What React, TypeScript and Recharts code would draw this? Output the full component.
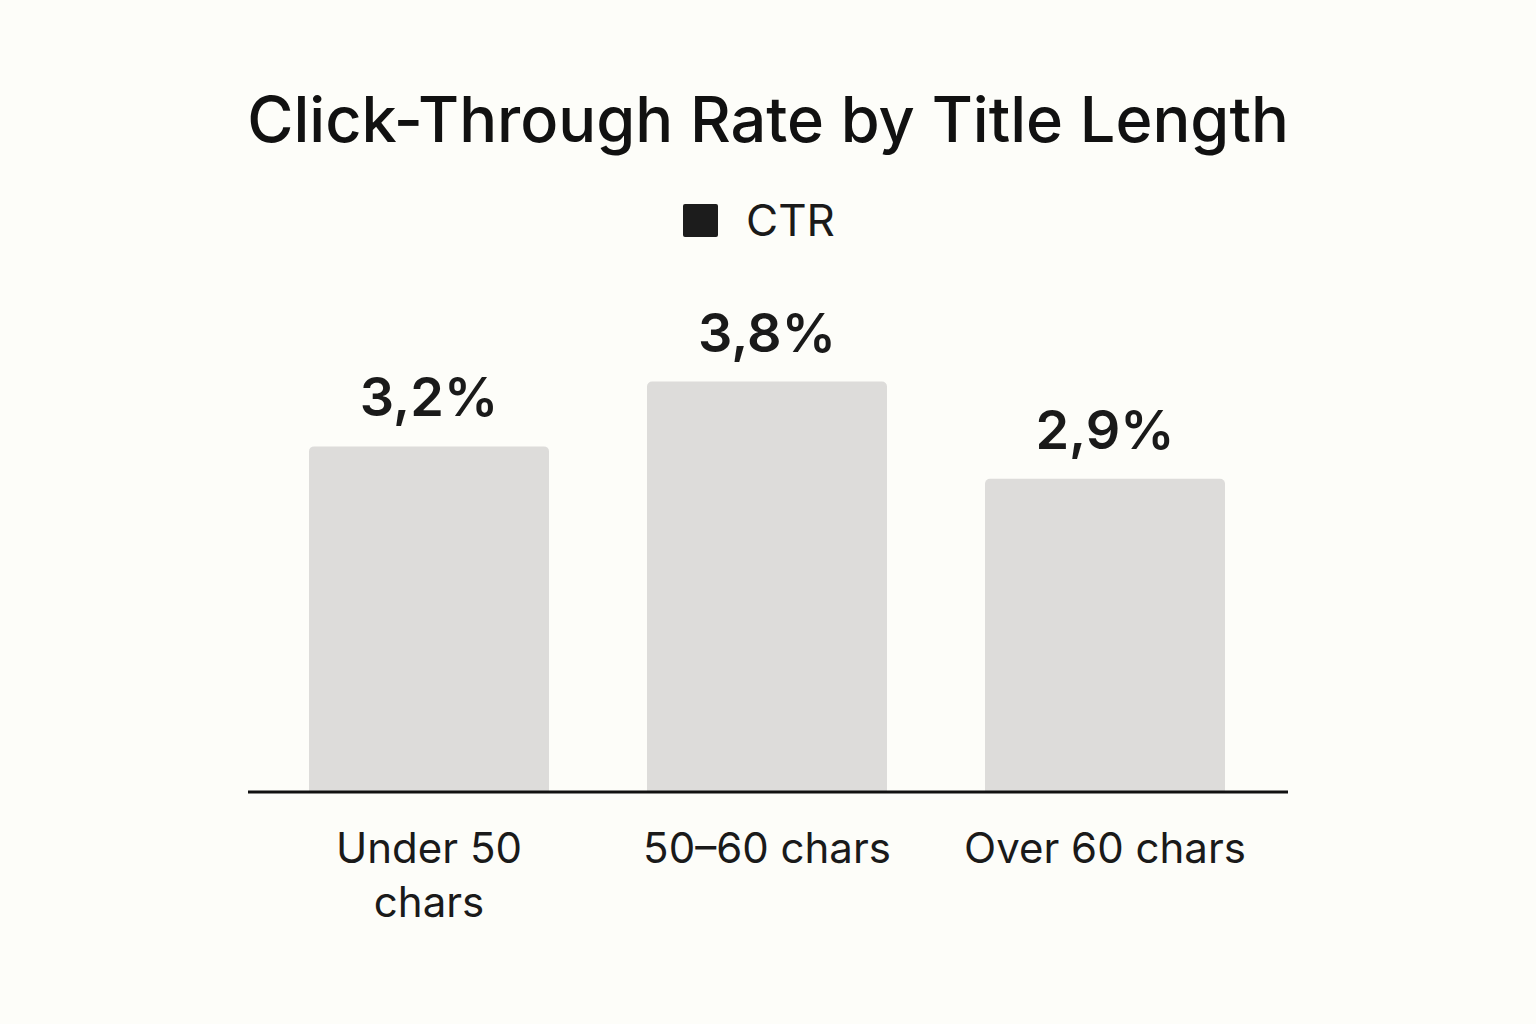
import React from 'react';
import { BarChart, Bar, XAxis, YAxis, LabelList } from 'recharts';

const categories = ['Under 50 chars', '50–60 chars', 'Over 60 chars'];
const tickLines = [['Under 50', 'chars'], ['50–60 chars'], ['Over 60 chars']];
const ctrValues = [3.2, 3.8, 2.9];
const seriesName = 'CTR';
const titleText = 'Click-Through Rate by Title Length';

const data = categories.map((c, i) => ({ name: c, ctr: ctrValues[i], idx: i }));

const FONT = 'Inter, "Noto Sans", sans-serif';

const Tick = (props: any) => {
  const { x, y, index } = props;
  const lines = tickLines[index] || [];
  return (
    <g>
      {lines.map((l, i) => (
        <text key={i} x={x} y={y + 63 + i * 54} textAnchor="middle" fontFamily={FONT} fontSize={42} fill="#1a1a1a">
          {l}
        </text>
      ))}
    </g>
  );
};

const ValueLabel = (props: any) => {
  const { x, y, width, value } = props;
  return (
    <text x={x + width / 2} y={y - 30} textAnchor="middle" fontFamily={FONT} fontSize={54} fontWeight={600} fill="#1a1a1a">
      {String(value).replace('.', ',') + '%'}
    </text>
  );
};

export default function App() {
  return (
    <div style={{ position: 'absolute', left: 0, top: 0, width: 1536, height: 1024, background: '#fdfdf9' }}>
      <div
        style={{
          position: 'absolute',
          left: 0,
          top: 79,
          width: 1536,
          textAlign: 'center',
          fontFamily: FONT,
          fontSize: 63,
          fontWeight: 500,
          color: '#111',
          lineHeight: '80px',
        }}
      >
        {titleText}
      </div>
      <div
        style={{
          position: 'absolute',
          left: 683,
          top: 193,
          display: 'flex',
          alignItems: 'center',
          fontFamily: FONT,
          height: 54,
        }}
      >
        <div style={{ width: 35, height: 33, background: '#1c1c1c', borderRadius: 2, marginRight: 28 }} />
        <span style={{ fontSize: 44, color: '#1a1a1a' }}>{seriesName}</span>
      </div>
      <div style={{ position: 'absolute', left: 0, top: 0 }}>
        <BarChart
          width={1536}
          height={1024}
          data={data}
          margin={{ top: 360, right: 248, left: 248, bottom: 0 }}
        >
          <XAxis
            dataKey="name"
            axisLine={{ stroke: '#111', strokeWidth: 3 }}
            tickLine={false}
            tick={<Tick />}
            interval={0}
            height={232}
            padding={{ left: 12, right: 14 }}
          />
          <YAxis hide domain={[0, 4]} />
          <Bar dataKey="ctr" name={seriesName} fill="#dddcda" barSize={240} radius={[5, 5, 0, 0]} isAnimationActive={false}>
            <LabelList dataKey="ctr" content={<ValueLabel />} />
          </Bar>
        </BarChart>
      </div>
    </div>
  );
}
